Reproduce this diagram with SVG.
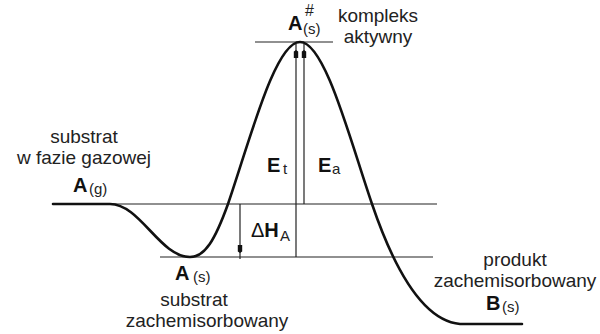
<svg xmlns="http://www.w3.org/2000/svg" width="600" height="334" viewBox="0 0 600 334">
<style>
text{font-family:"Liberation Sans",Arial,sans-serif;fill:#222}
.lbl{font-size:19px}
.b{font-size:20px;font-weight:bold;fill:#111}
.sub{font-size:15px;font-weight:normal}
.thin{stroke:#222;stroke-width:1.2;fill:none}
.curve{stroke:#111;stroke-width:2.6;fill:none;stroke-linecap:round}
</style>
<defs>
<marker id="ah" viewBox="0 -3 16 6" markerWidth="16" markerHeight="6" refX="14" refY="0" orient="auto" markerUnits="userSpaceOnUse" overflow="visible">
<path d="M0,-2.2 L6.5,-2.2 L8,0 L6.5,2.2 L0,2.2 Z" fill="#111"/>
</marker>
</defs>
<g id="connectors">
<line class="thin" x1="255" y1="42" x2="333" y2="42"/>
<line class="thin" x1="100" y1="204" x2="437" y2="204"/>
<line class="thin" x1="160" y1="257" x2="433" y2="257"/>
<line class="thin" x1="296" y1="257" x2="296" y2="44" marker-end="url(#ah)"/>
<line class="thin" x1="304" y1="204" x2="304" y2="44" marker-end="url(#ah)"/>
<line class="thin" x1="240" y1="204" x2="240" y2="259" marker-end="url(#ah)"/>
<path id="energy-curve" class="curve" d="M53,204 L110,204 C140,204 160,257 190,257 C205,257 215,240 228,204 C250,140 275,42 300,42 C325,42 350,140 372,204 C386,245 415,320 460,324 L522,324"/>
</g>
<g id="complex">
<text class="b" x="288" y="30">A</text>
<text class="sub" x="305" y="16" style="font-size:16px">#</text>
<text class="sub" x="303" y="34">(s)</text>
<text class="lbl" x="378" y="22" text-anchor="middle">kompleks</text>
<text class="lbl" x="378" y="43" text-anchor="middle">aktywny</text>
</g>
<g id="gas-substrate">
<text class="lbl" x="84" y="143" text-anchor="middle">substrat</text>
<text class="lbl" x="84" y="164" text-anchor="middle">w fazie gazowej</text>
<text class="b" x="73" y="192">A</text>
<text class="sub" x="89" y="194">(g)</text>
</g>
<g id="adsorbed-substrate">
<text class="b" x="175" y="280">A</text>
<text class="sub" x="193" y="282">(s)</text>
<text class="lbl" x="194" y="306" text-anchor="middle">substrat</text>
<text class="lbl" x="207" y="327" text-anchor="middle">zachemisorbowany</text>
</g>
<g id="product">
<text class="lbl" x="515" y="266" text-anchor="middle">produkt</text>
<text class="lbl" x="515" y="287" text-anchor="middle">zachemisorbowany</text>
<text class="b" x="486" y="310">B</text>
<text class="sub" x="502" y="312">(s)</text>
</g>
<g id="energies">
<text class="b" x="267" y="172">E</text>
<text class="sub" x="283" y="174">t</text>
<text class="b" x="318" y="172">E</text>
<text class="sub" x="332" y="174">a</text>
<text class="b" x="251" y="237"><tspan style="font-weight:normal">Δ</tspan>H</text>
<text class="sub" x="280" y="241">A</text>
</g>
</svg>
